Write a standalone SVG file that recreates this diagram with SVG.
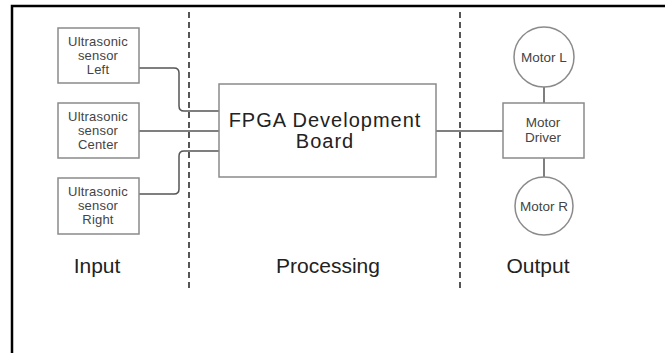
<svg xmlns="http://www.w3.org/2000/svg" width="665" height="353" viewBox="0 0 665 353">
<style>
.box{fill:#fff;stroke:#8a8a8a;stroke-width:1.5}
.st{font-family:"Liberation Sans",Arial,sans-serif;font-size:13px;letter-spacing:0.2px;fill:#444;text-anchor:middle}
.mt{font-family:"Liberation Sans",Arial,sans-serif;font-size:13.5px;fill:#444;text-anchor:middle}
.big{font-family:"Liberation Sans",Arial,sans-serif;font-size:20px;letter-spacing:1px;fill:#222;text-anchor:middle}
.lab{font-family:"Liberation Sans",Arial,sans-serif;font-size:21px;fill:#222;text-anchor:middle}
.wire{fill:none;stroke:#555;stroke-width:1.5}
.dash{stroke:#555;stroke-width:2;stroke-dasharray:6 4}
</style>
<rect width="665" height="353" fill="#fff"/>
<path d="M12 353 V6 H665" fill="none" stroke="#000" stroke-width="2.5"/>
<g id="dividers">
<line class="dash" x1="189" y1="12" x2="189" y2="292"/>
<line class="dash" x1="460" y1="12" x2="460" y2="292"/>
</g>
<g id="connectors">
<path class="wire" d="M139 68 H174 Q179 68 179 73 V106 Q179 111 184 111 H219"/>
<path class="wire" d="M139 131 H219"/>
<path class="wire" d="M139 194 H174 Q179 194 179 189 V156 Q179 151 184 151 H219"/>
<path class="wire" d="M436 131 H503"/>
<path class="wire" d="M544 87 V103"/>
<path class="wire" d="M544 158 V177"/>
</g>
<g id="sensor-left">
<rect class="box" x="58" y="28" width="81" height="55"/>
<text class="st" x="98" y="46">Ultrasonic</text>
<text class="st" x="98" y="60">sensor</text>
<text class="st" x="98" y="74">Left</text>
</g>
<g id="sensor-center">
<rect class="box" x="58" y="103" width="81" height="55"/>
<text class="st" x="98" y="121">Ultrasonic</text>
<text class="st" x="98" y="135">sensor</text>
<text class="st" x="98" y="149">Center</text>
</g>
<g id="sensor-right">
<rect class="box" x="58" y="178" width="81" height="56"/>
<text class="st" x="98" y="196">Ultrasonic</text>
<text class="st" x="98" y="210">sensor</text>
<text class="st" x="98" y="224">Right</text>
</g>
<g id="fpga">
<rect class="box" x="219" y="84" width="217" height="93"/>
<text class="big" x="325" y="127">FPGA Development</text>
<text class="big" x="325" y="148">Board</text>
</g>
<g id="motor-driver">
<rect class="box" x="503" y="103" width="81" height="55"/>
<text class="mt" x="543" y="127">Motor</text>
<text class="mt" x="543" y="142">Driver</text>
</g>
<g id="motor-l">
<circle class="box" cx="544" cy="57" r="30"/>
<text class="mt" x="544" y="62">Motor L</text>
</g>
<g id="motor-r">
<circle class="box" cx="544" cy="206" r="29"/>
<text class="mt" x="544" y="211">Motor R</text>
</g>
<g id="labels">
<text class="lab" x="97" y="273">Input</text>
<text class="lab" x="328" y="273">Processing</text>
<text class="lab" x="538" y="273">Output</text>
</g>
</svg>
